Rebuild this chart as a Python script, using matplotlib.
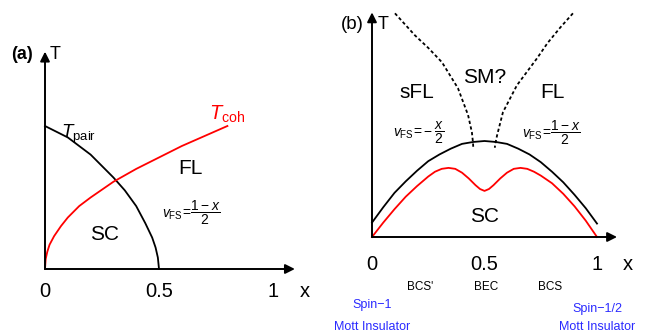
import matplotlib
matplotlib.use("Agg")
import matplotlib.pyplot as plt

plt.rcParams['font.family'] = ['Liberation Sans', 'DejaVu Sans']
plt.rcParams['mathtext.fontset'] = 'custom'
plt.rcParams['mathtext.rm'] = 'Liberation Sans'
plt.rcParams['mathtext.it'] = 'Liberation Sans:italic'
plt.rcParams['mathtext.sf'] = 'Liberation Sans'

# ---- panel (a) data ----
pair_x = [0, 0.05, 0.1, 0.15, 0.2, 0.25, 0.3, 0.35, 0.4, 0.44, 0.47, 0.485, 0.495, 0.5]
pair_T = [1.0, 0.96, 0.92, 0.86, 0.80, 0.72, 0.64, 0.55, 0.44, 0.32, 0.22, 0.15, 0.08, 0.0]
coh_x = [0, 0.003, 0.01, 0.02, 0.04, 0.07, 0.1, 0.15, 0.2, 0.3, 0.4, 0.5, 0.6, 0.7, 0.8]
coh_T = [0, 0.07, 0.12, 0.17, 0.23, 0.30, 0.36, 0.44, 0.50, 0.61, 0.70, 0.78, 0.86, 0.93, 1.0]

# ---- panel (b) data ----
dome_x = [0, 0.05, 0.1, 0.15, 0.2, 0.25, 0.3, 0.35, 0.4, 0.45, 0.5,
          0.55, 0.6, 0.65, 0.7, 0.75, 0.8, 0.85, 0.9, 0.95, 1.0]
dome_T = [0.15, 0.31, 0.46, 0.58, 0.69, 0.79, 0.86, 0.92, 0.97, 0.99, 1.0,
          0.99, 0.97, 0.92, 0.86, 0.78, 0.68, 0.57, 0.44, 0.30, 0.14]
tc_x = [0, 0.05, 0.1, 0.15, 0.2, 0.25, 0.28, 0.31, 0.34, 0.37, 0.4, 0.43, 0.46, 0.48, 0.5,
        0.52, 0.54, 0.57, 0.6, 0.63, 0.66, 0.69, 0.72, 0.75, 0.8, 0.85, 0.9, 0.95, 1.0]
tc_T = [0, 0.15, 0.29, 0.42, 0.53, 0.63, 0.68, 0.71, 0.72, 0.71, 0.67, 0.61, 0.54, 0.50, 0.48,
        0.50, 0.54, 0.61, 0.67, 0.71, 0.72, 0.71, 0.68, 0.64, 0.56, 0.45, 0.32, 0.17, 0.0]
dl_x = [0.102, 0.191, 0.25, 0.311, 0.382, 0.427, 0.444, 0.449, 0.45]
dl_T = [2.33, 2.10, 1.97, 1.82, 1.55, 1.27, 1.09, 0.98, 0.93]
dr_x = [0.893, 0.836, 0.78, 0.733, 0.644, 0.582, 0.556, 0.547, 0.546]
dr_T = [2.33, 2.18, 2.02, 1.86, 1.58, 1.30, 1.06, 0.96, 0.93]

ticks = [0, 0.5, 1]
tick_labels = ['0', '0.5', '1']

W, H = 647, 335
fig = plt.figure(figsize=(W / 100, H / 100), dpi=100)

axa = fig.add_axes([45 / W, 66 / H, 1.1 * 228 / W, 1.55 * 143 / H])
axa.set_xlim(0, 1.1)
axa.set_ylim(0, 1.55)
axa.axis('off')

axb = fig.add_axes([372 / W, 98 / H, 1.1 * 225 / W, 2.4 * 96 / H])
axb.set_xlim(0, 1.1)
axb.set_ylim(0, 2.4)
axb.axis('off')

arrow = dict(arrowstyle='-|>', lw=1.4, color='k', mutation_scale=14, shrinkA=0, shrinkB=0)
dots = (0, (1.8, 1.4))

# panel (a)
axa.annotate('', xy=(1.096, 0), xytext=(0, 0), arrowprops=arrow, annotation_clip=False)
axa.annotate('', xy=(0, 1.52), xytext=(0, 0), arrowprops=arrow, annotation_clip=False)
axa.plot(pair_x, pair_T, color='k', lw=1.3, clip_on=False)
axa.plot(coh_x, coh_T, color='red', lw=1.3, clip_on=False)
for t, lab in zip(ticks, tick_labels):
    axa.text(t, -0.16, lab, ha='center', va='center', fontsize=14.5)
axa.text(1.14, -0.16, 'x', ha='center', va='center', fontsize=14.5)
axa.text(-0.10, 1.50, '(a)', ha='center', va='center', fontsize=13, fontweight='bold')
axa.text(0.02, 1.50, 'T', ha='left', va='center', fontsize=13)
axa.text(0.07, 0.94, r'$T_{\mathrm{pair}}$', ha='left', va='center', fontsize=13.5)
axa.text(0.72, 1.08, r'$T_{\mathrm{coh}}$', ha='left', va='center', fontsize=14.5, color='red')
axa.text(0.636, 0.706, 'FL', ha='center', va='center', fontsize=15)
axa.text(0.263, 0.238, 'SC', ha='center', va='center', fontsize=15)
axa.text(0.515, 0.39, r'$v_{\mathrm{FS}}\!=\!\dfrac{1-x}{2}$', ha='left', va='center', fontsize=10)

# panel (b)
axb.annotate('', xy=(1.089, 0), xytext=(0, 0), arrowprops=arrow, annotation_clip=False)
axb.annotate('', xy=(0, 2.34), xytext=(0, 0), arrowprops=arrow, annotation_clip=False)
axb.plot(dome_x, dome_T, color='k', lw=1.3, clip_on=False)
axb.plot(tc_x, tc_T, color='red', lw=1.3, clip_on=False)
axb.plot(dl_x, dl_T, color='k', lw=1.3, ls=dots, clip_on=False)
axb.plot(dr_x, dr_T, color='k', lw=1.3, ls=dots, clip_on=False)
for t, lab in zip(ticks, tick_labels):
    axb.text(t, -0.29, lab, ha='center', va='center', fontsize=14.5)
axb.text(1.138, -0.29, 'x', ha='center', va='center', fontsize=14.5)
axb.text(-0.089, 2.21, '(b)', ha='center', va='center', fontsize=13.5)
axb.text(0.025, 2.21, 'T', ha='left', va='center', fontsize=13)
axb.text(0.2, 1.51, 'sFL', ha='center', va='center', fontsize=15)
axb.text(0.502, 1.66, 'SM?', ha='center', va='center', fontsize=15)
axb.text(0.8, 1.51, 'FL', ha='center', va='center', fontsize=15)
axb.text(0.502, 0.21, 'SC', ha='center', va='center', fontsize=15)
axb.text(0.095, 1.09, r'$v_{\mathrm{FS}}\!=\!-\dfrac{x}{2}$', ha='left', va='center', fontsize=10)
axb.text(0.665, 1.09, r'$v_{\mathrm{FS}}\!=\!\dfrac{1-x}{2}$', ha='left', va='center', fontsize=10)
for xpos, lab in zip([0.213, 0.507, 0.791], ["BCS'", 'BEC', 'BCS']):
    axb.text(xpos, -0.52, lab, ha='center', va='center', fontsize=8.5)
blue = '#2a2aff'
axb.text(0.0, -0.71, 'Spin\u22121', ha='center', va='center', fontsize=9, color=blue)
axb.text(0.0, -0.94, 'Mott Insulator', ha='center', va='center', fontsize=9, color=blue)
axb.text(1.0, -0.75, 'Spin\u22121/2', ha='center', va='center', fontsize=9, color=blue)
axb.text(1.0, -0.94, 'Mott Insulator', ha='center', va='center', fontsize=9, color=blue)

fig.savefig('out.png', dpi=100)
